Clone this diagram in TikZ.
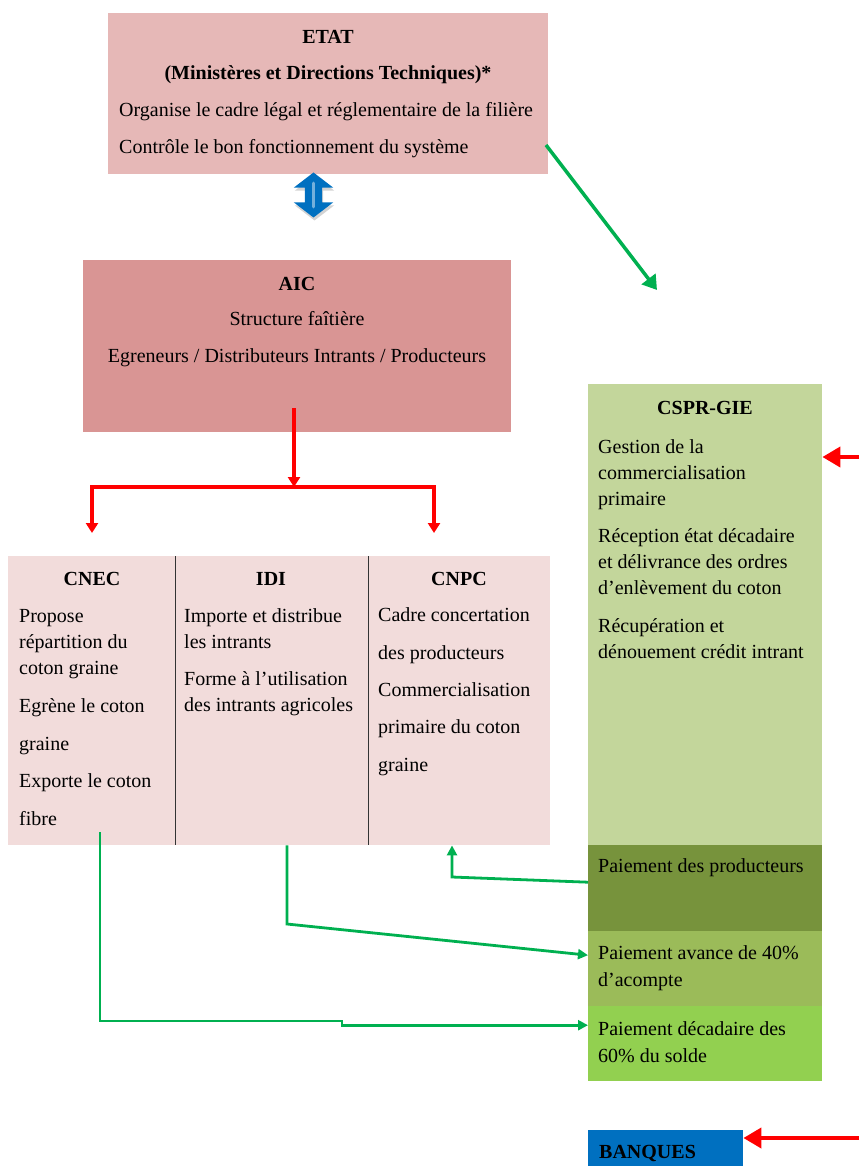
\documentclass[tikz,border=0pt]{standalone}
\usepackage{fontspec}
\setmainfont{Liberation Serif}
\usetikzlibrary{arrows.meta,positioning,shapes.arrows,shadows}
\definecolor{etatfill}{HTML}{E6B8B7}
\definecolor{aicfill}{HTML}{D99594}
\definecolor{subfill}{HTML}{F2DCDB}
\definecolor{csprfill}{HTML}{C3D69B}
\definecolor{prodfill}{HTML}{77933C}
\definecolor{avancefill}{HTML}{9BBB59}
\definecolor{soldefill}{HTML}{92D050}
\definecolor{bankfill}{HTML}{0070C0}
\definecolor{arrowgreen}{HTML}{00B050}
\definecolor{arrowred}{HTML}{FF0000}
\tikzset{
  box/.style={fill=#1, anchor=north west, inner sep=0pt},
  head/.style={inner sep=0pt, font=\fontsize{20}{26}\selectfont\bfseries},
  txt/.style={inner sep=0pt, anchor=west, align=left, font=\fontsize{20}{26}\selectfont},
  divider/.style={draw=black!80, line width=1.2pt},
  redarrow/.style={draw=arrowred, line width=4.5pt, -{Triangle[length=10pt, width=12pt]}},
  bigred/.style={draw=arrowred, line width=4pt, -{Triangle[length=18pt, width=20pt]}},
  greenarrow/.style={draw=arrowgreen, line width=2.8pt, -{Triangle[length=10pt, width=10pt]}},
  biggreen/.style={draw=arrowgreen, line width=3.5pt, -{Triangle[length=14pt, width=17pt]}},
}

\begin{document}
\begin{tikzpicture}[x=1pt, y=-1pt]
  \useasboundingbox (0,0) rectangle (859,1166);

  % ETAT
  \node[box=etatfill, minimum width=440pt, minimum height=161pt] (etat) at (108,13) {};
  \node[head] (etatname) at (328,37) {ETAT};
  \node[head] (etatsub) at (328,75) {(Ministères et Directions Techniques)*};
  \node[txt] (etattxt) at (119,130) {Organise le cadre légal et réglementaire de la filière\\[11pt]Contrôle le bon fonctionnement du système};

  \node[double arrow, fill=bankfill, inner sep=8.5pt,
        shape border rotate=90, minimum height=45pt,
        double arrow head extend=11pt, double arrow tip angle=105,
        drop shadow={shadow xshift=1pt, shadow yshift=-3pt, opacity=0.35}] (etatlink) at (313.5,195) {};
  \draw[bankfill!55!white, line width=3.5pt, line cap=round]
    ([yshift=-11pt]etatlink.north) -- ([yshift=11pt]etatlink.south);

  % AIC
  \node[box=aicfill, minimum width=428pt, minimum height=172pt] (aic) at (83,260) {};
  \node[head] (aicname) at (297,284) {AIC};
  \node[txt, anchor=center, align=center] (aictxt) at (297,339) {Structure faîtière\\[11pt]Egreneurs / Distributeurs Intrants / Producteurs};

  % CNEC / IDI / CNPC
  \node[box=subfill, minimum width=167pt, minimum height=289pt] (cnec) at (8,556) {};
  \node[box=subfill, minimum width=193pt, minimum height=289pt] (idi) at (175,556) {};
  \node[box=subfill, minimum width=182pt, minimum height=289pt] (cnpc) at (368,556) {};
  \draw[divider] (cnec.north east) -- (cnec.south east);
  \draw[divider] (idi.north east) -- (idi.south east);

  \node[head] (cnecname) at (92,579) {CNEC};
  \node[txt] (cnectxt) at (19,718) {Propose\\répartition du\\coton graine\\[12pt]Egrène le coton\\[12pt]graine\\[11pt]Exporte le coton\\[12pt]fibre};
  \node[head] (idiname) at (271,579) {IDI};
  \node[txt] (iditxt) at (184,662) {Importe et distribue\\les intrants\\[11pt]Forme à l’utilisation\\des intrants agricoles};
  \node[head] (cnpcname) at (459,579) {CNPC};
  \node[txt] (cnpctxt) at (378,692) {Cadre concertation\\[12pt]des producteurs\\[11pt]Commercialisation\\[11pt]primaire du coton\\[12pt]graine};

  % CSPR-GIE
  \node[box=csprfill, minimum width=234pt, minimum height=461pt] (cspr) at (588,384) {};
  \node[head] (csprname) at (705,408) {CSPR-GIE};
  \node[txt] (csprtxt) at (598,549) {Gestion de la\\commercialisation\\primaire\\[11pt]Réception état décadaire\\et délivrance des ordres\\d’enlèvement du coton\\[12pt]Récupération et\\dénouement crédit intrant};

  \node[box=prodfill, minimum width=234pt, minimum height=86pt] (prod) at (588,845) {};
  \node[txt] (prodtxt) at (598,868) {Paiement des producteurs};
  \node[box=avancefill, minimum width=234pt, minimum height=75pt] (avance) at (588,931) {};
  \node[txt] (avancetxt) at (598,968.5) {Paiement avance de 40\%\\[1pt]d’acompte};
  \node[box=soldefill, minimum width=234pt, minimum height=75pt] (solde) at (588,1006) {};
  \node[txt] (soldetxt) at (598,1042.5) {Paiement décadaire des\\[1pt]60\% du solde};

  % BANQUES
  \node[box=bankfill, minimum width=155pt, minimum height=37pt] (banques) at (588,1130) {};
  \node[head, anchor=west] (banqname) at (599,1153) {BANQUES};

  % Connectors
  \coordinate (etatout) at (546,145);
  \coordinate (etattip) at (657,290);
  \draw[biggreen] (etatout) -- (etattip);

  \coordinate (aicout) at (294,408);
  \coordinate (split) at (294,487);
  \coordinate (leftdrop) at (92,533);
  \coordinate (rightdrop) at (434,533);
  \draw[redarrow] (aicout) -- (split);
  \draw[redarrow] (split) -| (leftdrop);
  \draw[redarrow] (split) -| (rightdrop);

  \coordinate (csprin) at (859,457);
  \draw[bigred] (csprin) -- (csprin -| cspr.east);
  \coordinate (bankin) at (859,1138);
  \draw[bigred] (bankin) -- (bankin -| banques.east);

  \coordinate (prodout) at ([yshift=6pt]prod.west);
  \coordinate (prodbend) at (452,877);
  \draw[greenarrow] (prodout) -- (prodbend) -- (prodbend |- cnpc.south);

  \coordinate (avancein) at ([yshift=13.5pt]avance.west);
  \coordinate (idibend) at (287,924);
  \draw[greenarrow] (idibend |- idi.south) -- (idibend) -- (avancein);

  \coordinate (soldein) at ([yshift=18.5pt]solde.west);
  \coordinate (cnecout) at (100,832);
  \coordinate (cnecbend) at (100,1021);
  \coordinate (cnecjog) at (342,1021);
  \draw[greenarrow] (cnecout) -- (cnecbend) -- (cnecjog) -- (cnecjog |- soldein) -- (soldein);
\end{tikzpicture}
\end{document}
